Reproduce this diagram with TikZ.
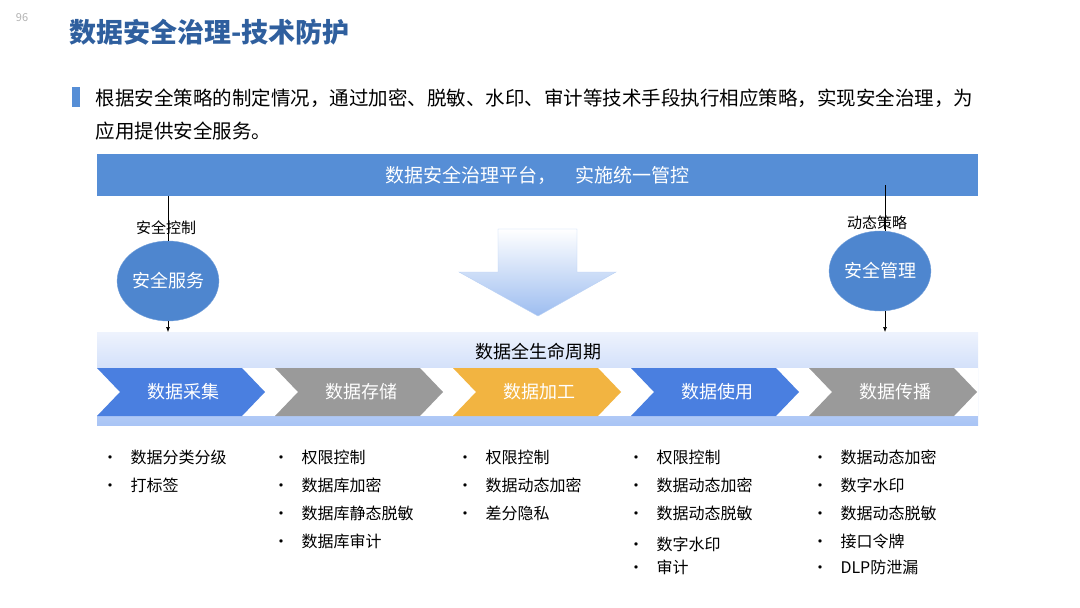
\documentclass[tikz,border=0pt]{standalone}
\usepackage{fontspec}
\setmainfont{Noto Sans CJK SC}
\usetikzlibrary{shapes.geometric,arrows.meta}
\definecolor{titleblue}{HTML}{2F5F9E}
\definecolor{barblue}{HTML}{568ED6}
\definecolor{ovalblue}{HTML}{4E86CF}
\definecolor{chblue}{HTML}{4A7FE0}
\definecolor{chgray}{HTML}{9A9A9A}
\definecolor{chorange}{HTML}{F2B441}
\definecolor{bandtop}{HTML}{EEF3FD}
\definecolor{bandbot}{HTML}{A9C4F5}
\definecolor{arrowbot}{HTML}{9DBDF0}
\begin{document}
\begin{tikzpicture}[x=1pt,y=-1pt,>={Latex[length=5pt,width=4pt]}]
    \tikzset{oval/.style = {ellipse, fill=ovalblue, draw=ovalblue!80!white, inner sep=0pt, minimum width=98pt, minimum height=80pt, text=white, font=\fontsize{18}{18}\selectfont},
        item/.style = {anchor=west, font=\fontsize{16}{16}\selectfont},
        dot/.style = {font=\fontsize{16}{16}\selectfont},
        link/.style = {draw, ->, line width=0.6pt}}
    \useasboundingbox (0,0) rectangle (1080,608);

    % header
    \node[text=gray!60, font=\fontsize{11}{11}\selectfont] (page) at (22,18) {96};
    \node[anchor=west, text=titleblue, font=\bfseries\fontsize{27}{27}\selectfont] (title) at (66,32) {数据安全治理-技术防护};
    \fill[barblue] (72,87) rectangle (80,107);
    \node[anchor=west, font=\fontsize{19.5}{19.5}\selectfont] (intro1) at (92,98) {根据安全策略的制定情况，通过加密、脱敏、水印、审计等技术手段执行相应策略，实现安全治理，为};
    \node[anchor=west, font=\fontsize{19.5}{19.5}\selectfont] (intro2) at (92,131) {应用提供安全服务。};

    % platform bar
    \node[fill=barblue, minimum width=881pt, minimum height=42pt, inner sep=0pt, text=white, font=\fontsize{19}{19}\selectfont] (platform) at (537.5,175) {数据安全治理平台，\quad 实施统一管控};

    % lifecycle band
    \shade[top color=bandtop, bottom color=bandbot] (97,332) rectangle (978,425);
    \node[font=\fontsize{18}{18}\selectfont] (life) at (538,352) {数据全生命周期};
    \fill[white] (97,368) rectangle (978,416);
    \coordinate (lifeL) at (168,332);
    \coordinate (lifeR) at (885,332);

    % big arrow
    \shade[top color=white, bottom color=arrowbot, draw=arrowbot!70]
        (498,229) -- (577,229) -- (577,272) -- (616,272) -- (538,316) -- (459,272) -- (498,272) -- cycle;

    % chevrons
    \foreach \i/\c/\t in {0/chblue/数据采集, 1/chgray/数据存储, 2/chorange/数据加工, 3/chblue/数据使用, 4/chgray/数据传播} {
        \pgfmathsetmacro\L{97+178*\i}
        \fill[\c] (\L,368) -- (\L+145,368) -- (\L+168,392) -- (\L+145,416) -- (\L,416) -- (\L+23,392) -- cycle;
        \node[text=white, font=\fontsize{18}{18}\selectfont] (stage\i) at (\L+86,392) {\t};
    }

    % side nodes
    \node[oval] (service) at (168,281) {安全服务};
    \node[oval] (manage) at (880,271) {安全管理};
    \node[font=\fontsize{15}{15}\selectfont] (ctrl) at (166,228) {安全控制};
    \node[font=\fontsize{15}{15}\selectfont] (policy) at (877,223) {动态策略};
    \coordinate (topL) at (168,196);
    \coordinate (topR) at (885,185);
    \draw[line width=0.6pt] (topL) -- (service.north -| topL);
    \draw[link] (service.south -| topL) -- (lifeL);
    \draw[line width=0.6pt] (topR) -- (manage.north -| topR);
    \draw[link] (manage.south -| topR) -- (lifeR);

    % lists
    \foreach \x/\y/\t in {110/457/数据分类分级, 110/485/打标签,
        281/457/权限控制, 281/485/数据库加密, 281/513/数据库静态脱敏, 281/541/数据库审计,
        465/457/权限控制, 465/485/数据动态加密, 465/513/差分隐私,
        636/457/权限控制, 636/485/数据动态加密, 636/513/数据动态脱敏, 636/544/数字水印, 636/567/审计,
        820/457/数据动态加密, 820/485/数字水印, 820/513/数据动态脱敏, 820/541/接口令牌, 820/567/DLP防泄漏} {
        \node[dot] at (\x,\y+3) {•};
        \node[item] at (\x+17,\y) {\t};
    }
\end{tikzpicture}
\end{document}
